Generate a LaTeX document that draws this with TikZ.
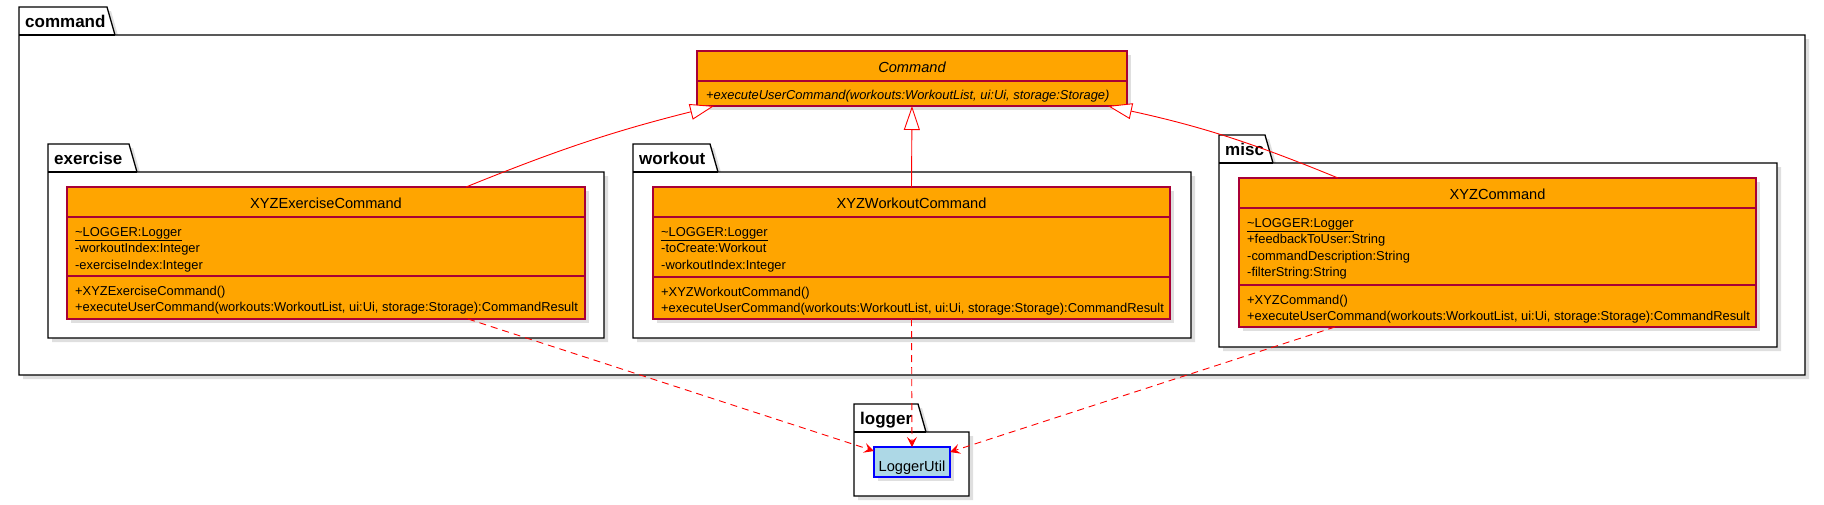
\documentclass[tikz,border=0pt]{standalone}
\usepackage{fontspec}
\setmainfont{Liberation Sans}
\usepackage{xcolor}
\usetikzlibrary{arrows.meta,shadows}
\definecolor{clsfill}{HTML}{FFA500}
\definecolor{clsborder}{HTML}{A80036}
\definecolor{utilfill}{HTML}{ADD8E6}
\newcommand{\umlpkg}[7]{%
  \draw[pkgline] (#3,#4) -- (#5,#4) -- (#5+8,#4+28) -- (#6,#4+28) -- (#6,#7) -- (#3,#7) -- cycle;
  \draw[line width=1.3pt] (#3,#4+28) -- (#5+8,#4+28);
  \node[pkglabel] (#1) at (#3+6,#4+20) {#2};
}
\newcommand{\members}[4]{%
  \foreach \txt [count=\k] in {#4}
    \node[member] (#1\k) at (#2,#3+16.6*\k-16.6) {\txt};
}
\tikzset{
  shade/.style={drop shadow={opacity=0.25,shadow xshift=4pt,shadow yshift=-4pt}},
  pkgline/.style={draw=black, line width=1.3pt, fill=white, shade},
  pkglabel/.style={anchor=base west, inner sep=0pt, font=\fontsize{17}{20}\selectfont\bfseries},
  cls/.style={draw=clsborder, line width=1.3pt, fill=clsfill, anchor=north west, inner sep=0pt, outer sep=0pt, shade},
  util/.style={draw=blue, line width=1.3pt, fill=utilfill, anchor=north west, inner sep=0pt, outer sep=0pt, shade},
  divider/.style={draw=clsborder, line width=1.3pt},
  clsname/.style={anchor=base, inner sep=0pt, font=\fontsize{14.6}{17}\selectfont},
  member/.style={anchor=base west, inner sep=0pt, font=\fontsize{12.9}{15}\selectfont},
  isa/.style={draw=red, line width=0.9pt, -{Triangle[length=24pt, width=16pt, fill=white]}},
  uses/.style={draw=red, line width=0.9pt, dash pattern=on 7pt off 5pt, -{Stealth[length=10pt, width=10pt, inset=4pt]}}
}
\begin{document}
\begin{tikzpicture}[x=1pt,y=-1pt]
\useasboundingbox (0,0) rectangle (1824,504);
\umlpkg{cmdPkg}{command}{19}{7}{107}{1805}{375}
\umlpkg{exerPkg}{exercise}{48}{144}{129}{604}{338}
\umlpkg{wkPkg}{workout}{633}{144}{710}{1191}{338}
\umlpkg{miscPkg}{misc}{1219}{135}{1265}{1777}{347}
\umlpkg{logPkg}{logger}{854}{404}{918}{969}{496}

\node[cls, minimum width=430pt, minimum height=55pt] (cmd) at (697,51) {};
\draw[divider] (697,81) -- (1127,81);
\node[clsname] (cmdName) at (912,72) {\itshape Command};
\members{cmdOp}{706}{99.5}{{\itshape +executeUserCommand(workouts:WorkoutList, ui:Ui, storage:Storage)}}

\node[cls, minimum width=518pt, minimum height=132pt] (exer) at (67,187) {};
\draw[divider] (67,217) -- (585,217);
\draw[divider] (67,276) -- (585,276);
\node[clsname] (exerName) at (326,208) {XYZExerciseCommand};
\members{exerAttr}{75}{236}{\underline{\textasciitilde LOGGER:Logger}, -workoutIndex:Integer, -exerciseIndex:Integer}
\members{exerOp}{75}{295}{+XYZExerciseCommand(), {+executeUserCommand(workouts:WorkoutList, ui:Ui, storage:Storage):CommandResult}}

\node[cls, minimum width=517pt, minimum height=132pt] (wk) at (653,187) {};
\draw[divider] (653,217) -- (1170,217);
\draw[divider] (653,277) -- (1170,277);
\node[clsname] (wkName) at (911.5,208) {XYZWorkoutCommand};
\members{wkAttr}{661}{236}{\underline{\textasciitilde LOGGER:Logger}, -toCreate:Workout, -workoutIndex:Integer}
\members{wkOp}{661}{296}{+XYZWorkoutCommand(), {+executeUserCommand(workouts:WorkoutList, ui:Ui, storage:Storage):CommandResult}}

\node[cls, minimum width=517pt, minimum height=149pt] (misc) at (1239,178) {};
\draw[divider] (1239,208) -- (1756,208);
\draw[divider] (1239,285) -- (1756,285);
\node[clsname] (miscName) at (1497.5,199) {XYZCommand};
\members{miscAttr}{1247}{227}{\underline{\textasciitilde LOGGER:Logger}, +feedbackToUser:String, -commandDescription:String, -filterString:String}
\members{miscOp}{1247}{304}{+XYZCommand(), {+executeUserCommand(workouts:WorkoutList, ui:Ui, storage:Storage):CommandResult}}

\node[util, minimum width=76pt, minimum height=30pt] (lu) at (874,447) {};
\node[clsname] (luName) at (912,471) {LoggerUtil};

\draw[isa] ([xshift=399pt]exer.north west) to[bend left=4] ([xshift=17pt]cmd.south west);
\draw[isa] (wk.north) -- (cmd.south);
\draw[isa] ([xshift=99pt]misc.north west) to[bend right=5] ([xshift=-19pt]cmd.south east);
\draw[uses] ([xshift=401pt]exer.south west) -- ([yshift=11pt]lu.west);
\draw[uses] (wk.south) -- (lu.north);
\draw[uses] ([xshift=96pt]misc.south west) -- ([yshift=10pt]lu.east);
\end{tikzpicture}
\end{document}
